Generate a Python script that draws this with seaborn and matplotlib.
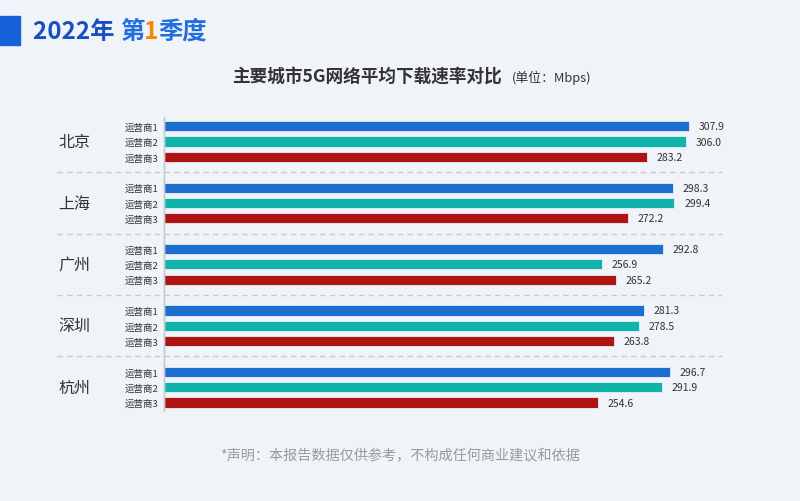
import numpy as np
import pandas as pd
import matplotlib
matplotlib.use("Agg")
import matplotlib.pyplot as plt
import seaborn as sns

cities = ["北京", "上海", "广州", "深圳", "杭州"]
operators = ["运营商1", "运营商2", "运营商3"]
speed_op1 = [307.9, 298.3, 292.8, 281.3, 296.7]
speed_op2 = [306.0, 299.4, 256.9, 278.5, 291.9]
speed_op3 = [283.2, 272.2, 265.2, 263.8, 254.6]
bar_colors = ["#1c6fd0", "#10b3aa", "#b01412"]

sns.set_theme(style="white")
plt.rcParams["font.family"] = ["Noto Sans CJK SC", "DejaVu Sans"]
bg = "#f0f3f8"

# 行顺序：每个城市 3 行，城市之间留一个空行
rows, order, ticklabels = [], [], []
for i, city in enumerate(cities):
    vals = [speed_op1[i], speed_op2[i], speed_op3[i]]
    for op, v in zip(operators, vals):
        key = f"{city}-{op}"
        rows.append({"row": key, "operator": op, "value": v})
        order.append(key)
        ticklabels.append(op)
    if i < len(cities) - 1:
        order.append(f"gap{i}")
        ticklabels.append("")
df = pd.DataFrame(rows)

fig = plt.figure(figsize=(8, 5.02), dpi=100, facecolor=bg)
ax = fig.add_axes([164 / 800, 1 - 412 / 502, 558 / 800, 294 / 502])
ax.set_facecolor(bg)

sns.barplot(data=df, x="value", y="row", hue="operator", order=order,
            hue_order=operators, palette=bar_colors, saturation=1, dodge=False,
            width=0.66, edgecolor="#e8eef8", linewidth=0.6, legend=False, ax=ax)

ax.set_xlim(0, 327.3)
ax.set_ylim(len(order) - 0.45, -0.6)
ax.set_xlabel("")
ax.set_ylabel("")
ax.set_xticks([])
ax.set_yticks(range(len(order)))
ax.set_yticklabels(ticklabels, fontsize=6.8, color="#333333")
ax.tick_params(axis="y", length=0, pad=4)
for s in ["top", "right", "bottom"]:
    ax.spines[s].set_visible(False)
ax.spines["left"].set_color("#c4c8ce")
ax.spines["left"].set_linewidth(1)

# 数值标签
for cont in ax.containers:
    ax.bar_label(cont, fmt="%.1f", padding=7, fontsize=7.5, color="#333333")

# 城市分隔虚线与城市名
for i, city in enumerate(cities):
    center = i * 4 + 1
    ax.text(-0.161, center, city, transform=ax.get_yaxis_transform(),
            ha="center", va="center", fontsize=11.5, color="#333333")
    if i < len(cities) - 1:
        ax.axhline(center + 2, xmin=-0.192, xmax=1.0, color="#c8cbd0",
                   linestyle=(0, (4, 3)), linewidth=1, clip_on=False)
ax.axvline(-55 / 558, ymin=0, ymax=1, color="#d6d9de", linewidth=1, clip_on=False)

# 图表标题
fig.text(232 / 800, 1 - 77 / 502, "主要城市5G网络平均下载速率对比", ha="left", va="center",
         fontsize=12.7, fontweight="bold", color="#333333")
fig.text(512 / 800, 1 - 78 / 502, "(单位：Mbps)", ha="left", va="center",
         fontsize=9.3, color="#333333")

# 页眉
fig.patches.append(plt.Rectangle((0, 1 - 46 / 502), 20 / 800, 29 / 502,
                                 transform=fig.transFigure, color="#1560d6"))
header = [("2022年 ", "#1a4fc2"), ("第", "#1f6fe0"), ("1", "#f58a00"), ("季度", "#1f6fe0")]
x = 33 / 800
for txt, col in header:
    t = fig.text(x, 1 - 32 / 502, txt, ha="left", va="center", fontsize=17.5,
                 fontweight="heavy", color=col)
    fig.canvas.draw()
    bb = t.get_window_extent()
    x = bb.x1 / fig.bbox.width

# 脚注
fig.text(0.5, 1 - 456 / 502, "*声明：本报告数据仅供参考，不构成任何商业建议和依据",
         ha="center", va="center", fontsize=10.2, color="#9a9a9a")

fig.savefig("out.png", dpi=100, facecolor=bg)
